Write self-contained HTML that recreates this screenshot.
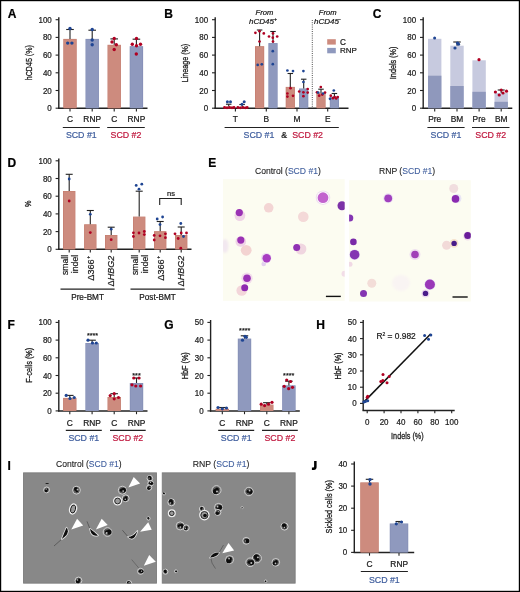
<!DOCTYPE html>
<html><head><meta charset="utf-8"><style>
html,body{margin:0;padding:0;background:#fff;}
body{width:520px;height:592px;overflow:hidden;position:relative;}
svg{position:absolute;left:0;top:0;will-change:transform;}
text{font-family:"Liberation Sans", sans-serif;}
</style></head><body>
<svg width="520" height="592" viewBox="0 0 520 592">
<rect x="0" y="0" width="520" height="592" fill="#fff"/>
<text x="7.80" y="18.10" font-size="12" text-anchor="start" fill="#000" stroke="#000" stroke-width="0.22" font-weight="bold" font-style="normal" >A</text>
<line x1="58.80" y1="17.20" x2="58.80" y2="108.90" stroke="#222" stroke-width="1.4" />
<line x1="55.60" y1="108.20" x2="58.80" y2="108.20" stroke="#222" stroke-width="1.1" />
<text transform="translate(51.80,111.28) scale(0.93,1)" x="0" y="0" font-size="8.6" text-anchor="end" fill="#1a1a1a" stroke="#1a1a1a" stroke-width="0.22">0</text>
<line x1="55.60" y1="90.50" x2="58.80" y2="90.50" stroke="#222" stroke-width="1.1" />
<text transform="translate(51.80,93.58) scale(0.93,1)" x="0" y="0" font-size="8.6" text-anchor="end" fill="#1a1a1a" stroke="#1a1a1a" stroke-width="0.22">20</text>
<line x1="55.60" y1="72.80" x2="58.80" y2="72.80" stroke="#222" stroke-width="1.1" />
<text transform="translate(51.80,75.88) scale(0.93,1)" x="0" y="0" font-size="8.6" text-anchor="end" fill="#1a1a1a" stroke="#1a1a1a" stroke-width="0.22">40</text>
<line x1="55.60" y1="55.10" x2="58.80" y2="55.10" stroke="#222" stroke-width="1.1" />
<text transform="translate(51.80,58.18) scale(0.93,1)" x="0" y="0" font-size="8.6" text-anchor="end" fill="#1a1a1a" stroke="#1a1a1a" stroke-width="0.22">60</text>
<line x1="55.60" y1="37.40" x2="58.80" y2="37.40" stroke="#222" stroke-width="1.1" />
<text transform="translate(51.80,40.48) scale(0.93,1)" x="0" y="0" font-size="8.6" text-anchor="end" fill="#1a1a1a" stroke="#1a1a1a" stroke-width="0.22">80</text>
<line x1="55.60" y1="19.70" x2="58.80" y2="19.70" stroke="#222" stroke-width="1.1" />
<text transform="translate(51.80,22.78) scale(0.93,1)" x="0" y="0" font-size="8.6" text-anchor="end" fill="#1a1a1a" stroke="#1a1a1a" stroke-width="0.22">100</text>
<text transform="translate(31.90,62.70) rotate(-90) scale(0.722,1)" x="0" y="0" font-size="9.8" text-anchor="middle" fill="#1a1a1a" stroke="#1a1a1a" stroke-width="0.3">hCD45 (%)</text>
<line x1="58.10" y1="108.20" x2="147.50" y2="108.20" stroke="#222" stroke-width="1.5" />
<rect x="63.30" y="38.90" width="13.40" height="69.30" fill="#C47B6C"/>
<rect x="63.85" y="39.35" width="12.30" height="68.85" fill="#CD8B7E"/>
<line x1="70.00" y1="38.90" x2="70.00" y2="29.50" stroke="#222" stroke-width="1.1" />
<line x1="66.20" y1="29.50" x2="73.80" y2="29.50" stroke="#222" stroke-width="1.1" />
<line x1="70.00" y1="108.90" x2="70.00" y2="111.50" stroke="#222" stroke-width="1.1" />
<rect x="85.50" y="38.90" width="13.40" height="69.30" fill="#7F8AB3"/>
<rect x="86.05" y="39.35" width="12.30" height="68.85" fill="#8F99BE"/>
<line x1="92.20" y1="38.90" x2="92.20" y2="30.20" stroke="#222" stroke-width="1.1" />
<line x1="88.40" y1="30.20" x2="96.00" y2="30.20" stroke="#222" stroke-width="1.1" />
<line x1="92.20" y1="108.90" x2="92.20" y2="111.50" stroke="#222" stroke-width="1.1" />
<rect x="107.50" y="44.80" width="13.40" height="63.40" fill="#C47B6C"/>
<rect x="108.05" y="45.25" width="12.30" height="62.95" fill="#CD8B7E"/>
<line x1="114.20" y1="44.80" x2="114.20" y2="38.90" stroke="#222" stroke-width="1.1" />
<line x1="110.40" y1="38.90" x2="118.00" y2="38.90" stroke="#222" stroke-width="1.1" />
<line x1="114.20" y1="108.90" x2="114.20" y2="111.50" stroke="#222" stroke-width="1.1" />
<rect x="129.70" y="46.20" width="13.40" height="62.00" fill="#7F8AB3"/>
<rect x="130.25" y="46.65" width="12.30" height="61.55" fill="#8F99BE"/>
<line x1="136.40" y1="46.20" x2="136.40" y2="39.20" stroke="#222" stroke-width="1.1" />
<line x1="132.60" y1="39.20" x2="140.20" y2="39.20" stroke="#222" stroke-width="1.1" />
<line x1="136.40" y1="108.90" x2="136.40" y2="111.50" stroke="#222" stroke-width="1.1" />
<text x="70.00" y="122.00" font-size="8.4" text-anchor="middle" fill="#1a1a1a" stroke="#1a1a1a" stroke-width="0.22" font-weight="normal" font-style="normal" >C</text>
<text x="92.20" y="122.00" font-size="8.4" text-anchor="middle" fill="#1a1a1a" stroke="#1a1a1a" stroke-width="0.22" font-weight="normal" font-style="normal" >RNP</text>
<text x="114.20" y="122.00" font-size="8.4" text-anchor="middle" fill="#1a1a1a" stroke="#1a1a1a" stroke-width="0.22" font-weight="normal" font-style="normal" >C</text>
<text x="136.40" y="122.00" font-size="8.4" text-anchor="middle" fill="#1a1a1a" stroke="#1a1a1a" stroke-width="0.22" font-weight="normal" font-style="normal" >RNP</text>
<line x1="62.80" y1="127.50" x2="99.80" y2="127.50" stroke="#222" stroke-width="1.2" />
<text x="81.30" y="138.20" font-size="8.8" text-anchor="middle" fill="#42609F" stroke="#42609F" stroke-width="0.22" font-weight="normal" font-style="normal" >SCD #1</text>
<line x1="107.20" y1="127.50" x2="144.80" y2="127.50" stroke="#222" stroke-width="1.2" />
<text x="126.00" y="138.20" font-size="8.8" text-anchor="middle" fill="#C0193F" stroke="#C0193F" stroke-width="0.22" font-weight="normal" font-style="normal" >SCD #2</text>
<circle cx="70.00" cy="28.50" r="1.7" fill="#1F4593"/>
<circle cx="67.70" cy="43.10" r="1.7" fill="#1F4593"/>
<circle cx="71.90" cy="43.10" r="1.7" fill="#1F4593"/>
<circle cx="92.20" cy="29.50" r="1.7" fill="#1F4593"/>
<circle cx="92.20" cy="40.00" r="1.7" fill="#1F4593"/>
<circle cx="92.20" cy="44.80" r="1.7" fill="#1F4593"/>
<circle cx="114.20" cy="38.50" r="1.7" fill="#B00022"/>
<circle cx="112.00" cy="42.00" r="1.7" fill="#B00022"/>
<circle cx="116.30" cy="44.80" r="1.7" fill="#B00022"/>
<circle cx="114.20" cy="49.50" r="1.7" fill="#B00022"/>
<circle cx="136.50" cy="38.50" r="1.7" fill="#B00022"/>
<circle cx="132.30" cy="44.20" r="1.7" fill="#B00022"/>
<circle cx="136.50" cy="45.70" r="1.7" fill="#B00022"/>
<circle cx="140.50" cy="44.20" r="1.7" fill="#B00022"/>
<circle cx="136.30" cy="54.00" r="1.7" fill="#B00022"/>
<text x="164.30" y="18.30" font-size="12" text-anchor="start" fill="#000" stroke="#000" stroke-width="0.22" font-weight="bold" font-style="normal" >B</text>
<line x1="215.20" y1="17.20" x2="215.20" y2="108.90" stroke="#222" stroke-width="1.4" />
<line x1="212.00" y1="108.20" x2="215.20" y2="108.20" stroke="#222" stroke-width="1.1" />
<text transform="translate(208.20,111.28) scale(0.93,1)" x="0" y="0" font-size="8.6" text-anchor="end" fill="#1a1a1a" stroke="#1a1a1a" stroke-width="0.22">0</text>
<line x1="212.00" y1="90.50" x2="215.20" y2="90.50" stroke="#222" stroke-width="1.1" />
<text transform="translate(208.20,93.58) scale(0.93,1)" x="0" y="0" font-size="8.6" text-anchor="end" fill="#1a1a1a" stroke="#1a1a1a" stroke-width="0.22">20</text>
<line x1="212.00" y1="72.80" x2="215.20" y2="72.80" stroke="#222" stroke-width="1.1" />
<text transform="translate(208.20,75.88) scale(0.93,1)" x="0" y="0" font-size="8.6" text-anchor="end" fill="#1a1a1a" stroke="#1a1a1a" stroke-width="0.22">40</text>
<line x1="212.00" y1="55.10" x2="215.20" y2="55.10" stroke="#222" stroke-width="1.1" />
<text transform="translate(208.20,58.18) scale(0.93,1)" x="0" y="0" font-size="8.6" text-anchor="end" fill="#1a1a1a" stroke="#1a1a1a" stroke-width="0.22">60</text>
<line x1="212.00" y1="37.40" x2="215.20" y2="37.40" stroke="#222" stroke-width="1.1" />
<text transform="translate(208.20,40.48) scale(0.93,1)" x="0" y="0" font-size="8.6" text-anchor="end" fill="#1a1a1a" stroke="#1a1a1a" stroke-width="0.22">80</text>
<line x1="212.00" y1="19.70" x2="215.20" y2="19.70" stroke="#222" stroke-width="1.1" />
<text transform="translate(208.20,22.78) scale(0.93,1)" x="0" y="0" font-size="8.6" text-anchor="end" fill="#1a1a1a" stroke="#1a1a1a" stroke-width="0.22">100</text>
<text transform="translate(188.10,63.00) rotate(-90) scale(0.729,1)" x="0" y="0" font-size="9.8" text-anchor="middle" fill="#1a1a1a" stroke="#1a1a1a" stroke-width="0.3">Lineage (%)</text>
<line x1="214.50" y1="108.20" x2="348.50" y2="108.20" stroke="#222" stroke-width="1.5" />
<text x="264.40" y="14.50" font-size="7.6" text-anchor="middle" fill="#1a1a1a" stroke="#1a1a1a" stroke-width="0.22" font-weight="normal" font-style="italic" >From</text>
<text x="262.90" y="23.90" font-size="8" text-anchor="middle" fill="#1a1a1a" stroke="#1a1a1a" stroke-width="0.22" font-weight="normal" font-style="italic" >hCD45<tspan font-size="5" dy="-3">+</tspan></text>
<text x="327.70" y="14.50" font-size="7.6" text-anchor="middle" fill="#1a1a1a" stroke="#1a1a1a" stroke-width="0.22" font-weight="normal" font-style="italic" >From</text>
<text x="327.40" y="23.90" font-size="8" text-anchor="middle" fill="#1a1a1a" stroke="#1a1a1a" stroke-width="0.22" font-weight="normal" font-style="italic" >hCD45<tspan font-size="5" dy="-3">-</tspan></text>
<line x1="312.30" y1="20.00" x2="312.30" y2="108.00" stroke="#222" stroke-width="0.8" stroke-dasharray="1 1.2"/>
<rect x="327.20" y="39.20" width="8.60" height="5.40" fill="#CD8B7E"/>
<rect x="327.20" y="47.90" width="8.60" height="5.40" fill="#8F99BE"/>
<text x="340.00" y="44.60" font-size="8.2" text-anchor="start" fill="#1a1a1a" stroke="#1a1a1a" stroke-width="0.22" font-weight="normal" font-style="normal" >C</text>
<text x="340.00" y="53.40" font-size="8.0" text-anchor="start" fill="#1a1a1a" stroke="#1a1a1a" stroke-width="0.22" font-weight="normal" font-style="normal" >RNP</text>
<rect x="224.10" y="106.60" width="9.20" height="1.60" fill="#C47B6C"/>
<rect x="224.65" y="107.05" width="8.10" height="1.15" fill="#CD8B7E"/>
<line x1="228.70" y1="106.60" x2="228.70" y2="104.20" stroke="#222" stroke-width="1.1" />
<line x1="225.95" y1="104.20" x2="231.45" y2="104.20" stroke="#222" stroke-width="1.1" />
<rect x="237.50" y="106.80" width="9.20" height="1.40" fill="#7F8AB3"/>
<rect x="238.05" y="107.25" width="8.10" height="0.95" fill="#8F99BE"/>
<line x1="242.10" y1="106.80" x2="242.10" y2="104.50" stroke="#222" stroke-width="1.1" />
<line x1="239.35" y1="104.50" x2="244.85" y2="104.50" stroke="#222" stroke-width="1.1" />
<line x1="235.40" y1="108.90" x2="235.40" y2="111.50" stroke="#222" stroke-width="1.1" />
<rect x="255.00" y="46.20" width="9.20" height="62.00" fill="#C47B6C"/>
<rect x="255.55" y="46.65" width="8.10" height="61.55" fill="#CD8B7E"/>
<line x1="259.60" y1="46.20" x2="259.60" y2="30.00" stroke="#222" stroke-width="1.1" />
<line x1="256.85" y1="30.00" x2="262.35" y2="30.00" stroke="#222" stroke-width="1.1" />
<rect x="268.40" y="43.10" width="9.20" height="65.10" fill="#7F8AB3"/>
<rect x="268.95" y="43.55" width="8.10" height="64.65" fill="#8F99BE"/>
<line x1="273.00" y1="43.10" x2="273.00" y2="31.50" stroke="#222" stroke-width="1.1" />
<line x1="270.25" y1="31.50" x2="275.75" y2="31.50" stroke="#222" stroke-width="1.1" />
<line x1="266.30" y1="108.90" x2="266.30" y2="111.50" stroke="#222" stroke-width="1.1" />
<rect x="285.70" y="86.90" width="9.20" height="21.30" fill="#C47B6C"/>
<rect x="286.25" y="87.35" width="8.10" height="20.85" fill="#CD8B7E"/>
<line x1="290.30" y1="86.90" x2="290.30" y2="73.50" stroke="#222" stroke-width="1.1" />
<line x1="287.55" y1="73.50" x2="293.05" y2="73.50" stroke="#222" stroke-width="1.1" />
<rect x="299.10" y="88.50" width="9.20" height="19.70" fill="#7F8AB3"/>
<rect x="299.65" y="88.95" width="8.10" height="19.25" fill="#8F99BE"/>
<line x1="303.70" y1="88.50" x2="303.70" y2="79.20" stroke="#222" stroke-width="1.1" />
<line x1="300.95" y1="79.20" x2="306.45" y2="79.20" stroke="#222" stroke-width="1.1" />
<line x1="297.00" y1="108.90" x2="297.00" y2="111.50" stroke="#222" stroke-width="1.1" />
<rect x="316.40" y="93.10" width="9.20" height="15.10" fill="#C47B6C"/>
<rect x="316.95" y="93.55" width="8.10" height="14.65" fill="#CD8B7E"/>
<line x1="321.00" y1="93.10" x2="321.00" y2="89.20" stroke="#222" stroke-width="1.1" />
<line x1="318.25" y1="89.20" x2="323.75" y2="89.20" stroke="#222" stroke-width="1.1" />
<rect x="329.80" y="96.60" width="9.20" height="11.60" fill="#7F8AB3"/>
<rect x="330.35" y="97.05" width="8.10" height="11.15" fill="#8F99BE"/>
<line x1="334.40" y1="96.60" x2="334.40" y2="93.50" stroke="#222" stroke-width="1.1" />
<line x1="331.65" y1="93.50" x2="337.15" y2="93.50" stroke="#222" stroke-width="1.1" />
<line x1="327.70" y1="108.90" x2="327.70" y2="111.50" stroke="#222" stroke-width="1.1" />
<text x="235.40" y="122.00" font-size="8.4" text-anchor="middle" fill="#1a1a1a" stroke="#1a1a1a" stroke-width="0.22" font-weight="normal" font-style="normal" >T</text>
<text x="266.30" y="122.00" font-size="8.4" text-anchor="middle" fill="#1a1a1a" stroke="#1a1a1a" stroke-width="0.22" font-weight="normal" font-style="normal" >B</text>
<text x="297.00" y="122.00" font-size="8.4" text-anchor="middle" fill="#1a1a1a" stroke="#1a1a1a" stroke-width="0.22" font-weight="normal" font-style="normal" >M</text>
<text x="327.70" y="122.00" font-size="8.4" text-anchor="middle" fill="#1a1a1a" stroke="#1a1a1a" stroke-width="0.22" font-weight="normal" font-style="normal" >E</text>
<line x1="224.60" y1="127.50" x2="338.80" y2="127.50" stroke="#222" stroke-width="1.2" />
<text x="243.60" y="138.20" font-size="8.8" text-anchor="start" fill="#42609F" stroke="#42609F" stroke-width="0.22" font-weight="normal" font-style="normal" >SCD #1</text>
<text x="281.20" y="138.20" font-size="8.8" text-anchor="start" fill="#1a1a1a" stroke="#1a1a1a" stroke-width="0.22" font-weight="normal" font-style="normal" >&amp;</text>
<text x="292.20" y="138.20" font-size="8.8" text-anchor="start" fill="#C0193F" stroke="#C0193F" stroke-width="0.22" font-weight="normal" font-style="normal" >SCD #2</text>
<circle cx="224.50" cy="107.50" r="1.4" fill="#B00022"/>
<circle cx="227.00" cy="107.80" r="1.4" fill="#B00022"/>
<circle cx="229.50" cy="107.50" r="1.4" fill="#B00022"/>
<circle cx="232.00" cy="107.80" r="1.4" fill="#B00022"/>
<circle cx="234.00" cy="107.50" r="1.4" fill="#B00022"/>
<circle cx="227.40" cy="101.80" r="1.5" fill="#1F4593"/>
<circle cx="230.50" cy="101.80" r="1.5" fill="#1F4593"/>
<circle cx="237.80" cy="107.50" r="1.4" fill="#B00022"/>
<circle cx="240.30" cy="107.80" r="1.4" fill="#B00022"/>
<circle cx="242.80" cy="107.50" r="1.4" fill="#B00022"/>
<circle cx="245.30" cy="107.80" r="1.4" fill="#B00022"/>
<circle cx="247.20" cy="107.50" r="1.4" fill="#B00022"/>
<circle cx="244.20" cy="101.80" r="1.5" fill="#1F4593"/>
<circle cx="242.00" cy="104.20" r="1.5" fill="#1F4593"/>
<circle cx="255.40" cy="32.80" r="1.35" fill="#B00022"/>
<circle cx="259.50" cy="31.20" r="1.35" fill="#B00022"/>
<circle cx="263.80" cy="33.40" r="1.35" fill="#B00022"/>
<circle cx="259.50" cy="41.50" r="1.35" fill="#B00022"/>
<circle cx="257.70" cy="64.90" r="1.35" fill="#1F4593"/>
<circle cx="261.80" cy="64.30" r="1.35" fill="#1F4593"/>
<circle cx="269.00" cy="36.50" r="1.35" fill="#B00022"/>
<circle cx="273.00" cy="33.40" r="1.35" fill="#B00022"/>
<circle cx="272.80" cy="37.70" r="1.35" fill="#B00022"/>
<circle cx="277.20" cy="36.50" r="1.35" fill="#B00022"/>
<circle cx="273.00" cy="41.50" r="1.35" fill="#B00022"/>
<circle cx="272.80" cy="51.20" r="1.35" fill="#1F4593"/>
<circle cx="272.80" cy="64.20" r="1.35" fill="#1F4593"/>
<circle cx="287.40" cy="70.50" r="1.35" fill="#1F4593"/>
<circle cx="293.00" cy="71.10" r="1.35" fill="#1F4593"/>
<circle cx="290.50" cy="88.20" r="1.35" fill="#B00022"/>
<circle cx="287.40" cy="93.50" r="1.35" fill="#B00022"/>
<circle cx="287.40" cy="96.60" r="1.35" fill="#B00022"/>
<circle cx="293.00" cy="95.80" r="1.35" fill="#B00022"/>
<circle cx="303.40" cy="71.10" r="1.35" fill="#1F4593"/>
<circle cx="303.40" cy="82.00" r="1.35" fill="#1F4593"/>
<circle cx="299.20" cy="91.50" r="1.35" fill="#B00022"/>
<circle cx="303.40" cy="92.30" r="1.35" fill="#B00022"/>
<circle cx="307.70" cy="89.00" r="1.35" fill="#B00022"/>
<circle cx="307.70" cy="92.60" r="1.35" fill="#B00022"/>
<circle cx="303.40" cy="96.20" r="1.35" fill="#B00022"/>
<circle cx="320.80" cy="87.00" r="1.35" fill="#B00022"/>
<circle cx="317.00" cy="92.30" r="1.35" fill="#B00022"/>
<circle cx="319.20" cy="95.70" r="1.35" fill="#B00022"/>
<circle cx="325.00" cy="92.60" r="1.35" fill="#B00022"/>
<circle cx="322.30" cy="94.60" r="1.35" fill="#B00022"/>
<circle cx="318.20" cy="92.60" r="1.35" fill="#1F4593"/>
<circle cx="323.00" cy="93.50" r="1.35" fill="#1F4593"/>
<circle cx="333.80" cy="90.50" r="1.35" fill="#1F4593"/>
<circle cx="330.00" cy="98.80" r="1.35" fill="#1F4593"/>
<circle cx="330.80" cy="95.70" r="1.35" fill="#B00022"/>
<circle cx="334.60" cy="97.00" r="1.35" fill="#B00022"/>
<circle cx="337.70" cy="97.00" r="1.35" fill="#B00022"/>
<circle cx="336.20" cy="98.50" r="1.35" fill="#B00022"/>
<circle cx="333.00" cy="98.20" r="1.35" fill="#B00022"/>
<text x="372.70" y="18.30" font-size="12" text-anchor="start" fill="#000" stroke="#000" stroke-width="0.22" font-weight="bold" font-style="normal" >C</text>
<line x1="423.20" y1="17.20" x2="423.20" y2="108.90" stroke="#222" stroke-width="1.4" />
<line x1="420.00" y1="108.20" x2="423.20" y2="108.20" stroke="#222" stroke-width="1.1" />
<text transform="translate(416.20,111.28) scale(0.93,1)" x="0" y="0" font-size="8.6" text-anchor="end" fill="#1a1a1a" stroke="#1a1a1a" stroke-width="0.22">0</text>
<line x1="420.00" y1="90.50" x2="423.20" y2="90.50" stroke="#222" stroke-width="1.1" />
<text transform="translate(416.20,93.58) scale(0.93,1)" x="0" y="0" font-size="8.6" text-anchor="end" fill="#1a1a1a" stroke="#1a1a1a" stroke-width="0.22">20</text>
<line x1="420.00" y1="72.80" x2="423.20" y2="72.80" stroke="#222" stroke-width="1.1" />
<text transform="translate(416.20,75.88) scale(0.93,1)" x="0" y="0" font-size="8.6" text-anchor="end" fill="#1a1a1a" stroke="#1a1a1a" stroke-width="0.22">40</text>
<line x1="420.00" y1="55.10" x2="423.20" y2="55.10" stroke="#222" stroke-width="1.1" />
<text transform="translate(416.20,58.18) scale(0.93,1)" x="0" y="0" font-size="8.6" text-anchor="end" fill="#1a1a1a" stroke="#1a1a1a" stroke-width="0.22">60</text>
<line x1="420.00" y1="37.40" x2="423.20" y2="37.40" stroke="#222" stroke-width="1.1" />
<text transform="translate(416.20,40.48) scale(0.93,1)" x="0" y="0" font-size="8.6" text-anchor="end" fill="#1a1a1a" stroke="#1a1a1a" stroke-width="0.22">80</text>
<line x1="420.00" y1="19.70" x2="423.20" y2="19.70" stroke="#222" stroke-width="1.1" />
<text transform="translate(416.20,22.78) scale(0.93,1)" x="0" y="0" font-size="8.6" text-anchor="end" fill="#1a1a1a" stroke="#1a1a1a" stroke-width="0.22">100</text>
<text transform="translate(396.20,62.90) rotate(-90) scale(0.737,1)" x="0" y="0" font-size="9.8" text-anchor="middle" fill="#1a1a1a" stroke="#1a1a1a" stroke-width="0.3">Indels (%)</text>
<line x1="422.50" y1="108.20" x2="512.30" y2="108.20" stroke="#222" stroke-width="1.5" />
<rect x="428.00" y="38.80" width="13.40" height="69.40" fill="#C7CADF"/>
<rect x="428.00" y="75.70" width="13.40" height="32.50" fill="#8F98BC"/>
<line x1="434.70" y1="108.90" x2="434.70" y2="111.50" stroke="#222" stroke-width="1.1" />
<rect x="450.30" y="45.70" width="13.40" height="62.50" fill="#C7CADF"/>
<rect x="450.30" y="86.00" width="13.40" height="22.20" fill="#8F98BC"/>
<line x1="457.00" y1="108.90" x2="457.00" y2="111.50" stroke="#222" stroke-width="1.1" />
<rect x="472.40" y="60.30" width="13.40" height="47.90" fill="#C7CADF"/>
<rect x="472.40" y="91.80" width="13.40" height="16.40" fill="#8F98BC"/>
<line x1="479.10" y1="108.90" x2="479.10" y2="111.50" stroke="#222" stroke-width="1.1" />
<rect x="494.50" y="93.00" width="13.40" height="15.20" fill="#C7CADF"/>
<rect x="494.50" y="101.80" width="13.40" height="6.40" fill="#8F98BC"/>
<line x1="501.20" y1="108.90" x2="501.20" y2="111.50" stroke="#222" stroke-width="1.1" />
<text x="434.70" y="122.00" font-size="8.4" text-anchor="middle" fill="#1a1a1a" stroke="#1a1a1a" stroke-width="0.22" font-weight="normal" font-style="normal" >Pre</text>
<text x="457.00" y="122.00" font-size="8.4" text-anchor="middle" fill="#1a1a1a" stroke="#1a1a1a" stroke-width="0.22" font-weight="normal" font-style="normal" >BM</text>
<text x="479.10" y="122.00" font-size="8.4" text-anchor="middle" fill="#1a1a1a" stroke="#1a1a1a" stroke-width="0.22" font-weight="normal" font-style="normal" >Pre</text>
<text x="501.20" y="122.00" font-size="8.4" text-anchor="middle" fill="#1a1a1a" stroke="#1a1a1a" stroke-width="0.22" font-weight="normal" font-style="normal" >BM</text>
<line x1="427.40" y1="127.50" x2="464.60" y2="127.50" stroke="#222" stroke-width="1.2" />
<text x="446.00" y="138.20" font-size="8.8" text-anchor="middle" fill="#42609F" stroke="#42609F" stroke-width="0.22" font-weight="normal" font-style="normal" >SCD #1</text>
<line x1="472.00" y1="127.50" x2="509.50" y2="127.50" stroke="#222" stroke-width="1.2" />
<text x="490.75" y="138.20" font-size="8.8" text-anchor="middle" fill="#C0193F" stroke="#C0193F" stroke-width="0.22" font-weight="normal" font-style="normal" >SCD #2</text>
<line x1="457.00" y1="45.70" x2="457.00" y2="42.00" stroke="#222" stroke-width="1.1" />
<line x1="453.25" y1="42.00" x2="460.75" y2="42.00" stroke="#222" stroke-width="1.1" />
<line x1="501.20" y1="93.00" x2="501.20" y2="90.00" stroke="#222" stroke-width="1.1" />
<line x1="497.70" y1="90.00" x2="504.70" y2="90.00" stroke="#222" stroke-width="1.1" />
<circle cx="434.60" cy="38.00" r="1.5" fill="#1F4593"/>
<circle cx="455.00" cy="48.00" r="1.6" fill="#1F4593"/>
<circle cx="458.50" cy="44.20" r="1.6" fill="#1F4593"/>
<circle cx="457.50" cy="43.00" r="1.6" fill="#1F4593"/>
<circle cx="479.00" cy="59.70" r="1.6" fill="#B00022"/>
<circle cx="495.40" cy="92.00" r="1.6" fill="#B00022"/>
<circle cx="499.20" cy="95.00" r="1.6" fill="#B00022"/>
<circle cx="501.20" cy="90.00" r="1.6" fill="#B00022"/>
<circle cx="503.00" cy="93.00" r="1.6" fill="#B00022"/>
<circle cx="506.50" cy="91.20" r="1.6" fill="#B00022"/>
<text x="7.60" y="167.30" font-size="12" text-anchor="start" fill="#000" stroke="#000" stroke-width="0.22" font-weight="bold" font-style="normal" >D</text>
<line x1="58.80" y1="158.50" x2="58.80" y2="250.00" stroke="#222" stroke-width="1.4" />
<line x1="55.60" y1="249.30" x2="58.80" y2="249.30" stroke="#222" stroke-width="1.1" />
<text transform="translate(51.80,252.38) scale(0.93,1)" x="0" y="0" font-size="8.6" text-anchor="end" fill="#1a1a1a" stroke="#1a1a1a" stroke-width="0.22">0</text>
<line x1="55.60" y1="231.60" x2="58.80" y2="231.60" stroke="#222" stroke-width="1.1" />
<text transform="translate(51.80,234.68) scale(0.93,1)" x="0" y="0" font-size="8.6" text-anchor="end" fill="#1a1a1a" stroke="#1a1a1a" stroke-width="0.22">20</text>
<line x1="55.60" y1="213.90" x2="58.80" y2="213.90" stroke="#222" stroke-width="1.1" />
<text transform="translate(51.80,216.98) scale(0.93,1)" x="0" y="0" font-size="8.6" text-anchor="end" fill="#1a1a1a" stroke="#1a1a1a" stroke-width="0.22">40</text>
<line x1="55.60" y1="196.20" x2="58.80" y2="196.20" stroke="#222" stroke-width="1.1" />
<text transform="translate(51.80,199.28) scale(0.93,1)" x="0" y="0" font-size="8.6" text-anchor="end" fill="#1a1a1a" stroke="#1a1a1a" stroke-width="0.22">60</text>
<line x1="55.60" y1="178.50" x2="58.80" y2="178.50" stroke="#222" stroke-width="1.1" />
<text transform="translate(51.80,181.58) scale(0.93,1)" x="0" y="0" font-size="8.6" text-anchor="end" fill="#1a1a1a" stroke="#1a1a1a" stroke-width="0.22">80</text>
<line x1="55.60" y1="160.80" x2="58.80" y2="160.80" stroke="#222" stroke-width="1.1" />
<text transform="translate(51.80,163.88) scale(0.93,1)" x="0" y="0" font-size="8.6" text-anchor="end" fill="#1a1a1a" stroke="#1a1a1a" stroke-width="0.22">100</text>
<text transform="translate(31.40,203.90) rotate(-90) scale(0.735,1)" x="0" y="0" font-size="9.8" text-anchor="middle" fill="#1a1a1a" stroke="#1a1a1a" stroke-width="0.3">%</text>
<line x1="58.10" y1="249.30" x2="191.50" y2="249.30" stroke="#222" stroke-width="1.5" />
<rect x="63.00" y="191.00" width="12.40" height="58.30" fill="#C47B6C"/>
<rect x="63.55" y="191.45" width="11.30" height="57.85" fill="#CD8B7E"/>
<line x1="69.20" y1="191.00" x2="69.20" y2="174.30" stroke="#222" stroke-width="1.1" />
<line x1="65.70" y1="174.30" x2="72.70" y2="174.30" stroke="#222" stroke-width="1.1" />
<line x1="69.20" y1="250.00" x2="69.20" y2="252.60" stroke="#222" stroke-width="1.1" />
<rect x="84.10" y="224.30" width="12.40" height="25.00" fill="#C47B6C"/>
<rect x="84.65" y="224.75" width="11.30" height="24.55" fill="#CD8B7E"/>
<line x1="90.30" y1="224.30" x2="90.30" y2="210.50" stroke="#222" stroke-width="1.1" />
<line x1="86.80" y1="210.50" x2="93.80" y2="210.50" stroke="#222" stroke-width="1.1" />
<line x1="90.30" y1="250.00" x2="90.30" y2="252.60" stroke="#222" stroke-width="1.1" />
<rect x="105.00" y="235.00" width="12.40" height="14.30" fill="#C47B6C"/>
<rect x="105.55" y="235.45" width="11.30" height="13.85" fill="#CD8B7E"/>
<line x1="111.20" y1="235.00" x2="111.20" y2="227.20" stroke="#222" stroke-width="1.1" />
<line x1="107.70" y1="227.20" x2="114.70" y2="227.20" stroke="#222" stroke-width="1.1" />
<line x1="111.20" y1="250.00" x2="111.20" y2="252.60" stroke="#222" stroke-width="1.1" />
<rect x="133.00" y="216.60" width="12.40" height="32.70" fill="#C47B6C"/>
<rect x="133.55" y="217.05" width="11.30" height="32.25" fill="#CD8B7E"/>
<line x1="139.20" y1="216.60" x2="139.20" y2="191.20" stroke="#222" stroke-width="1.1" />
<line x1="135.70" y1="191.20" x2="142.70" y2="191.20" stroke="#222" stroke-width="1.1" />
<line x1="139.20" y1="250.00" x2="139.20" y2="252.60" stroke="#222" stroke-width="1.1" />
<rect x="154.00" y="231.20" width="12.40" height="18.10" fill="#C47B6C"/>
<rect x="154.55" y="231.65" width="11.30" height="17.65" fill="#CD8B7E"/>
<line x1="160.20" y1="231.20" x2="160.20" y2="221.50" stroke="#222" stroke-width="1.1" />
<line x1="156.70" y1="221.50" x2="163.70" y2="221.50" stroke="#222" stroke-width="1.1" />
<line x1="160.20" y1="250.00" x2="160.20" y2="252.60" stroke="#222" stroke-width="1.1" />
<rect x="175.00" y="235.00" width="12.40" height="14.30" fill="#C47B6C"/>
<rect x="175.55" y="235.45" width="11.30" height="13.85" fill="#CD8B7E"/>
<line x1="181.20" y1="235.00" x2="181.20" y2="227.00" stroke="#222" stroke-width="1.1" />
<line x1="177.70" y1="227.00" x2="184.70" y2="227.00" stroke="#222" stroke-width="1.1" />
<line x1="181.20" y1="250.00" x2="181.20" y2="252.60" stroke="#222" stroke-width="1.1" />
<text transform="translate(67.60,254.80) rotate(-90)" x="0" y="0" font-size="8.7" text-anchor="end" fill="#1a1a1a" stroke="#1a1a1a" stroke-width="0.2">small</text>
<text transform="translate(77.90,254.80) rotate(-90)" x="0" y="0" font-size="8.7" text-anchor="end" fill="#1a1a1a" stroke="#1a1a1a" stroke-width="0.2">indel</text>
<text transform="translate(93.60,255.80) rotate(-90)" x="0" y="0" font-size="9" text-anchor="end" fill="#1a1a1a" stroke="#1a1a1a" stroke-width="0.2"><tspan font-size="9.4">&#916;</tspan>366<tspan font-size="5" dy="-3.6" dx="0.8">+</tspan></text>
<text transform="translate(114.40,255.80) rotate(-90)" x="0" y="0" font-size="9" text-anchor="end" fill="#1a1a1a" stroke="#1a1a1a" stroke-width="0.2"><tspan font-size="9.4">&#916;</tspan><tspan font-style="italic">HBG2</tspan></text>
<text transform="translate(137.60,254.80) rotate(-90)" x="0" y="0" font-size="8.7" text-anchor="end" fill="#1a1a1a" stroke="#1a1a1a" stroke-width="0.2">small</text>
<text transform="translate(147.90,254.80) rotate(-90)" x="0" y="0" font-size="8.7" text-anchor="end" fill="#1a1a1a" stroke="#1a1a1a" stroke-width="0.2">indel</text>
<text transform="translate(163.60,255.80) rotate(-90)" x="0" y="0" font-size="9" text-anchor="end" fill="#1a1a1a" stroke="#1a1a1a" stroke-width="0.2"><tspan font-size="9.4">&#916;</tspan>366<tspan font-size="5" dy="-3.6" dx="0.8">+</tspan></text>
<text transform="translate(184.40,255.80) rotate(-90)" x="0" y="0" font-size="9" text-anchor="end" fill="#1a1a1a" stroke="#1a1a1a" stroke-width="0.2"><tspan font-size="9.4">&#916;</tspan><tspan font-style="italic">HBG2</tspan></text>
<line x1="60.50" y1="289.20" x2="114.60" y2="289.20" stroke="#222" stroke-width="1.2" />
<text x="87.55" y="299.90" font-size="8.2" text-anchor="middle" fill="#1a1a1a" stroke="#1a1a1a" stroke-width="0.22" font-weight="normal" font-style="normal" >Pre-BMT</text>
<line x1="130.50" y1="289.20" x2="184.60" y2="289.20" stroke="#222" stroke-width="1.2" />
<text x="157.55" y="299.90" font-size="8.2" text-anchor="middle" fill="#1a1a1a" stroke="#1a1a1a" stroke-width="0.22" font-weight="normal" font-style="normal" >Post-BMT</text>
<path d="M159.7,205 V198.5 H181.2 V205" fill="none" stroke="#222" stroke-width="1.1"/>
<text x="171.00" y="196.30" font-size="7.5" text-anchor="middle" fill="#1a1a1a" stroke="#1a1a1a" stroke-width="0.22" font-weight="normal" font-style="normal" >ns</text>
<circle cx="69.20" cy="179.00" r="1.4" fill="#1F4593"/>
<circle cx="69.20" cy="201.00" r="1.4" fill="#B00022"/>
<circle cx="90.30" cy="214.30" r="1.4" fill="#1F4593"/>
<circle cx="90.30" cy="232.60" r="1.4" fill="#B00022"/>
<circle cx="111.20" cy="229.20" r="1.4" fill="#1F4593"/>
<circle cx="111.20" cy="239.70" r="1.4" fill="#B00022"/>
<circle cx="136.20" cy="185.40" r="1.4" fill="#1F4593"/>
<circle cx="141.80" cy="184.20" r="1.4" fill="#1F4593"/>
<circle cx="139.00" cy="189.20" r="1.4" fill="#1F4593"/>
<circle cx="133.40" cy="232.80" r="1.4" fill="#B00022"/>
<circle cx="133.40" cy="236.50" r="1.4" fill="#B00022"/>
<circle cx="139.00" cy="233.00" r="1.4" fill="#B00022"/>
<circle cx="144.30" cy="231.50" r="1.4" fill="#B00022"/>
<circle cx="144.30" cy="234.60" r="1.4" fill="#B00022"/>
<circle cx="157.20" cy="219.00" r="1.4" fill="#1F4593"/>
<circle cx="162.60" cy="217.00" r="1.4" fill="#1F4593"/>
<circle cx="160.00" cy="224.60" r="1.4" fill="#1F4593"/>
<circle cx="154.20" cy="235.40" r="1.4" fill="#B00022"/>
<circle cx="154.20" cy="240.00" r="1.4" fill="#B00022"/>
<circle cx="160.00" cy="235.80" r="1.4" fill="#B00022"/>
<circle cx="165.40" cy="233.80" r="1.4" fill="#B00022"/>
<circle cx="165.40" cy="237.70" r="1.4" fill="#B00022"/>
<circle cx="180.80" cy="223.50" r="1.4" fill="#1F4593"/>
<circle cx="183.50" cy="236.50" r="1.4" fill="#1F4593"/>
<circle cx="175.00" cy="233.80" r="1.4" fill="#B00022"/>
<circle cx="178.20" cy="238.50" r="1.4" fill="#B00022"/>
<circle cx="181.20" cy="233.00" r="1.4" fill="#B00022"/>
<circle cx="186.50" cy="233.00" r="1.4" fill="#B00022"/>
<circle cx="180.80" cy="248.20" r="1.4" fill="#B00022"/>
<text x="208.20" y="167.30" font-size="12" text-anchor="start" fill="#000" stroke="#000" stroke-width="0.22" font-weight="bold" font-style="normal" >E</text>
<text x="287.90" y="174.30" font-size="8.6" text-anchor="middle" fill="#1a1a1a" stroke="#1a1a1a" stroke-width="0.1" font-weight="normal" font-style="normal" >Control (<tspan fill="#42609F" stroke="#42609F">SCD #1</tspan>)</text>
<text x="407.10" y="174.30" font-size="8.6" text-anchor="middle" fill="#1a1a1a" stroke="#1a1a1a" stroke-width="0.1" font-weight="normal" font-style="normal" >RNP (<tspan fill="#42609F" stroke="#42609F">SCD #1</tspan>)</text>
<defs><filter id="bl" x="-50%" y="-50%" width="200%" height="200%"><feGaussianBlur stdDeviation="0.35"/></filter><filter id="bl2" x="-50%" y="-50%" width="200%" height="200%"><feGaussianBlur stdDeviation="0.8"/></filter><clipPath id="e1"><rect x="223.0" y="179.2" width="121.7" height="121.6"/></clipPath><clipPath id="e2"><rect x="349.1" y="180.2" width="121.7" height="121.3"/></clipPath></defs>
<rect x="223.00" y="179.20" width="121.70" height="121.60" fill="#FCFCF1"/>
<rect x="349.10" y="180.20" width="121.70" height="121.30" fill="#FCFCF1"/>
<g clip-path="url(#e1)">
<ellipse cx="225" cy="246" rx="3.5" ry="7" fill="#F2E8F0" filter="url(#bl2)"/>
<circle cx="268.7" cy="207.8" r="4.8" fill="#F3D5D4" filter="url(#bl)"/>
<circle cx="303.3" cy="216.8" r="5.3" fill="#F4D9D8" filter="url(#bl)"/>
<circle cx="246.2" cy="250.3" r="5.4" fill="#F3D3D1" filter="url(#bl)"/>
<circle cx="239.9" cy="215.6" r="5.4" fill="#EFD3E6" opacity="1.0" filter="url(#bl)"/>
<circle cx="239.3" cy="212.6" r="3.6" fill="#9A30B4" filter="url(#bl)"/>
<circle cx="240.8" cy="241.5" r="5.3" fill="#EFD3E6" opacity="1.0" filter="url(#bl)"/>
<circle cx="240.8" cy="240.1" r="3.6" fill="#9A30B4" filter="url(#bl)"/>
<circle cx="323" cy="197.7" r="7.3" fill="#EEE0F0" opacity="1.0" filter="url(#bl)"/>
<circle cx="323" cy="197.7" r="6.2" fill="#FFFFFF" filter="url(#bl)"/>
<circle cx="323" cy="197.7" r="5.4" fill="#C262CE" filter="url(#bl)"/>
<circle cx="342.0" cy="205.7" r="4.5" fill="#7C30A8" filter="url(#bl)"/>
<circle cx="300.9" cy="249" r="5.5" fill="#F0D6E0" opacity="1.0" filter="url(#bl)"/>
<circle cx="296.7" cy="247.5" r="3.5" fill="#9030B4" filter="url(#bl)"/>
<circle cx="263.7" cy="264" r="2.3" fill="#E2D0EE" opacity="1.0" filter="url(#bl)"/>
<circle cx="266.2" cy="258.0" r="5.2" fill="#EEE0F2" opacity="1.0" filter="url(#bl)"/>
<circle cx="266.7" cy="258.3" r="4.2" fill="#A83EC2" filter="url(#bl)"/>
<circle cx="247" cy="278.3" r="5.7" fill="#F2DDEB" opacity="1.0" filter="url(#bl)"/>
<circle cx="247" cy="278.3" r="3.8" fill="#9A32B6" filter="url(#bl)"/>
<circle cx="241.7" cy="290.5" r="5.3" fill="#F3D6DA" opacity="1.0" filter="url(#bl)"/>
<circle cx="244.7" cy="287.8" r="3.5" fill="#8E2CB0" filter="url(#bl)"/>
<circle cx="344.5" cy="273.8" r="3" fill="#F2DDE8" filter="url(#bl)"/>
</g>
<g clip-path="url(#e2)">
<ellipse cx="401" cy="283" rx="9" ry="8" fill="#F9F4F3" filter="url(#bl2)"/>
<circle cx="388.2" cy="198.3" r="5" fill="#ECE2F2" opacity="1.0" filter="url(#bl)"/>
<circle cx="388.2" cy="198.3" r="3.9" fill="#A040BE" filter="url(#bl)"/>
<circle cx="349.8" cy="218" r="3.5" fill="#8436B2" filter="url(#bl)"/>
<circle cx="353.4" cy="241.9" r="3.3" fill="#7A2AA8" filter="url(#bl)"/>
<circle cx="354.6" cy="254.7" r="5.4" fill="#E8E0F4" opacity="1.0" filter="url(#bl)"/>
<circle cx="354.6" cy="254.7" r="4.8" fill="#8436B2" filter="url(#bl)"/>
<circle cx="350" cy="264.2" r="2.5" fill="#F0D8E4" filter="url(#bl)"/>
<circle cx="371.8" cy="283.3" r="4.5" fill="#F3DDD8" filter="url(#bl)"/>
<circle cx="363.5" cy="293.4" r="3.5" fill="#8436B2" filter="url(#bl)"/>
<circle cx="453.7" cy="188.5" r="4.5" fill="#F1DEDF" filter="url(#bl)"/>
<circle cx="457" cy="198.5" r="4.5" fill="#E8E4F4" opacity="1.0" filter="url(#bl)"/>
<circle cx="455.5" cy="198.9" r="3.8" fill="#8A2AB0" filter="url(#bl)"/>
<circle cx="467.7" cy="236" r="4.5" fill="#F0DDEA" opacity="1.0" filter="url(#bl)"/>
<circle cx="467.7" cy="235.6" r="3.5" fill="#6A1E9A" filter="url(#bl)"/>
<circle cx="415" cy="254.5" r="5.5" fill="#EEE0F0" opacity="1.0" filter="url(#bl)"/>
<circle cx="415" cy="254.5" r="3.8" fill="#A040B8" filter="url(#bl)"/>
<circle cx="446.6" cy="245.2" r="4.5" fill="#F2DAD8" filter="url(#bl)"/>
<circle cx="454.1" cy="243.4" r="4.3" fill="#F6E2CC" opacity="1.0" filter="url(#bl)"/>
<circle cx="454.1" cy="243.4" r="2.7" fill="#4A1A8A" filter="url(#bl)"/>
<circle cx="429.9" cy="284.5" r="5.6" fill="#E6E2F4" opacity="1.0" filter="url(#bl)"/>
<circle cx="429.9" cy="284.5" r="5.0" fill="#9A38B8" filter="url(#bl)"/>
<circle cx="425.5" cy="293.4" r="4.0" fill="#EAD8EE" opacity="1.0" filter="url(#bl)"/>
<circle cx="425.5" cy="293.4" r="2.7" fill="#4A1A8A" filter="url(#bl)"/>
</g>
<line x1="325.90" y1="296.40" x2="340.80" y2="296.40" stroke="#111" stroke-width="1.4" />
<line x1="452.50" y1="297.00" x2="467.70" y2="297.00" stroke="#111" stroke-width="1.4" />
<text x="7.60" y="328.60" font-size="12" text-anchor="start" fill="#000" stroke="#000" stroke-width="0.22" font-weight="bold" font-style="normal" >F</text>
<line x1="58.80" y1="320.00" x2="58.80" y2="411.60" stroke="#222" stroke-width="1.4" />
<line x1="55.60" y1="410.90" x2="58.80" y2="410.90" stroke="#222" stroke-width="1.1" />
<text transform="translate(51.80,413.98) scale(0.93,1)" x="0" y="0" font-size="8.6" text-anchor="end" fill="#1a1a1a" stroke="#1a1a1a" stroke-width="0.22">0</text>
<line x1="55.60" y1="393.20" x2="58.80" y2="393.20" stroke="#222" stroke-width="1.1" />
<text transform="translate(51.80,396.28) scale(0.93,1)" x="0" y="0" font-size="8.6" text-anchor="end" fill="#1a1a1a" stroke="#1a1a1a" stroke-width="0.22">20</text>
<line x1="55.60" y1="375.50" x2="58.80" y2="375.50" stroke="#222" stroke-width="1.1" />
<text transform="translate(51.80,378.58) scale(0.93,1)" x="0" y="0" font-size="8.6" text-anchor="end" fill="#1a1a1a" stroke="#1a1a1a" stroke-width="0.22">40</text>
<line x1="55.60" y1="357.80" x2="58.80" y2="357.80" stroke="#222" stroke-width="1.1" />
<text transform="translate(51.80,360.88) scale(0.93,1)" x="0" y="0" font-size="8.6" text-anchor="end" fill="#1a1a1a" stroke="#1a1a1a" stroke-width="0.22">60</text>
<line x1="55.60" y1="340.10" x2="58.80" y2="340.10" stroke="#222" stroke-width="1.1" />
<text transform="translate(51.80,343.18) scale(0.93,1)" x="0" y="0" font-size="8.6" text-anchor="end" fill="#1a1a1a" stroke="#1a1a1a" stroke-width="0.22">80</text>
<line x1="55.60" y1="322.40" x2="58.80" y2="322.40" stroke="#222" stroke-width="1.1" />
<text transform="translate(51.80,325.48) scale(0.93,1)" x="0" y="0" font-size="8.6" text-anchor="end" fill="#1a1a1a" stroke="#1a1a1a" stroke-width="0.22">100</text>
<text transform="translate(31.50,365.20) rotate(-90) scale(0.748,1)" x="0" y="0" font-size="9.8" text-anchor="middle" fill="#1a1a1a" stroke="#1a1a1a" stroke-width="0.3">F-cells (%)</text>
<line x1="58.10" y1="410.90" x2="147.50" y2="410.90" stroke="#222" stroke-width="1.5" />
<rect x="63.10" y="397.90" width="13.40" height="13.00" fill="#C47B6C"/>
<rect x="63.65" y="398.35" width="12.30" height="12.55" fill="#CD8B7E"/>
<line x1="69.80" y1="397.90" x2="69.80" y2="395.40" stroke="#222" stroke-width="1.1" />
<line x1="66.05" y1="395.40" x2="73.55" y2="395.40" stroke="#222" stroke-width="1.1" />
<line x1="69.80" y1="411.60" x2="69.80" y2="414.20" stroke="#222" stroke-width="1.1" />
<rect x="85.40" y="343.00" width="13.40" height="67.90" fill="#7F8AB3"/>
<rect x="85.95" y="343.45" width="12.30" height="67.45" fill="#8F99BE"/>
<line x1="92.10" y1="343.00" x2="92.10" y2="340.20" stroke="#222" stroke-width="1.1" />
<line x1="88.35" y1="340.20" x2="95.85" y2="340.20" stroke="#222" stroke-width="1.1" />
<line x1="92.10" y1="411.60" x2="92.10" y2="414.20" stroke="#222" stroke-width="1.1" />
<rect x="107.50" y="397.00" width="13.40" height="13.90" fill="#C47B6C"/>
<rect x="108.05" y="397.45" width="12.30" height="13.45" fill="#CD8B7E"/>
<line x1="114.20" y1="397.00" x2="114.20" y2="393.70" stroke="#222" stroke-width="1.1" />
<line x1="110.45" y1="393.70" x2="117.95" y2="393.70" stroke="#222" stroke-width="1.1" />
<line x1="114.20" y1="411.60" x2="114.20" y2="414.20" stroke="#222" stroke-width="1.1" />
<rect x="129.80" y="383.00" width="13.40" height="27.90" fill="#7F8AB3"/>
<rect x="130.35" y="383.45" width="12.30" height="27.45" fill="#8F99BE"/>
<line x1="136.50" y1="383.00" x2="136.50" y2="378.00" stroke="#222" stroke-width="1.1" />
<line x1="132.75" y1="378.00" x2="140.25" y2="378.00" stroke="#222" stroke-width="1.1" />
<line x1="136.50" y1="411.60" x2="136.50" y2="414.20" stroke="#222" stroke-width="1.1" />
<text x="69.80" y="425.50" font-size="8.4" text-anchor="middle" fill="#1a1a1a" stroke="#1a1a1a" stroke-width="0.22" font-weight="normal" font-style="normal" >C</text>
<text x="92.10" y="425.50" font-size="8.4" text-anchor="middle" fill="#1a1a1a" stroke="#1a1a1a" stroke-width="0.22" font-weight="normal" font-style="normal" >RNP</text>
<text x="114.20" y="425.50" font-size="8.4" text-anchor="middle" fill="#1a1a1a" stroke="#1a1a1a" stroke-width="0.22" font-weight="normal" font-style="normal" >C</text>
<text x="136.50" y="425.50" font-size="8.4" text-anchor="middle" fill="#1a1a1a" stroke="#1a1a1a" stroke-width="0.22" font-weight="normal" font-style="normal" >RNP</text>
<line x1="65.80" y1="430.40" x2="101.80" y2="430.40" stroke="#222" stroke-width="1.2" />
<text x="83.80" y="441.10" font-size="8.8" text-anchor="middle" fill="#42609F" stroke="#42609F" stroke-width="0.22" font-weight="normal" font-style="normal" >SCD #1</text>
<line x1="110.00" y1="430.40" x2="145.70" y2="430.40" stroke="#222" stroke-width="1.2" />
<text x="127.85" y="441.10" font-size="8.8" text-anchor="middle" fill="#C0193F" stroke="#C0193F" stroke-width="0.22" font-weight="normal" font-style="normal" >SCD #2</text>
<text x="92.50" y="338.20" font-size="7.2" text-anchor="middle" fill="#1a1a1a" stroke="#1a1a1a" stroke-width="0.22" font-weight="normal" font-style="normal" >****</text>
<text x="136.50" y="377.70" font-size="7.2" text-anchor="middle" fill="#1a1a1a" stroke="#1a1a1a" stroke-width="0.22" font-weight="normal" font-style="normal" >***</text>
<circle cx="66.20" cy="395.40" r="1.6" fill="#1F4593"/>
<circle cx="70.00" cy="398.50" r="1.6" fill="#1F4593"/>
<circle cx="74.20" cy="397.50" r="1.6" fill="#1F4593"/>
<circle cx="88.00" cy="340.20" r="1.6" fill="#1F4593"/>
<circle cx="92.50" cy="343.00" r="1.6" fill="#1F4593"/>
<circle cx="96.30" cy="343.00" r="1.6" fill="#1F4593"/>
<circle cx="110.20" cy="395.60" r="1.6" fill="#B00022"/>
<circle cx="114.20" cy="393.70" r="1.6" fill="#B00022"/>
<circle cx="114.20" cy="398.80" r="1.6" fill="#B00022"/>
<circle cx="118.50" cy="397.50" r="1.6" fill="#B00022"/>
<circle cx="132.00" cy="384.80" r="1.6" fill="#B00022"/>
<circle cx="135.80" cy="386.00" r="1.6" fill="#B00022"/>
<circle cx="140.60" cy="386.00" r="1.6" fill="#B00022"/>
<circle cx="133.80" cy="378.00" r="1.6" fill="#B00022"/>
<circle cx="139.00" cy="378.00" r="1.6" fill="#B00022"/>
<text x="164.30" y="328.60" font-size="12" text-anchor="start" fill="#000" stroke="#000" stroke-width="0.22" font-weight="bold" font-style="normal" >G</text>
<line x1="210.60" y1="320.00" x2="210.60" y2="411.60" stroke="#222" stroke-width="1.4" />
<line x1="207.40" y1="410.90" x2="210.60" y2="410.90" stroke="#222" stroke-width="1.1" />
<text transform="translate(203.60,413.98) scale(0.93,1)" x="0" y="0" font-size="8.6" text-anchor="end" fill="#1a1a1a" stroke="#1a1a1a" stroke-width="0.22">0</text>
<line x1="207.40" y1="393.20" x2="210.60" y2="393.20" stroke="#222" stroke-width="1.1" />
<text transform="translate(203.60,396.28) scale(0.93,1)" x="0" y="0" font-size="8.6" text-anchor="end" fill="#1a1a1a" stroke="#1a1a1a" stroke-width="0.22">10</text>
<line x1="207.40" y1="375.50" x2="210.60" y2="375.50" stroke="#222" stroke-width="1.1" />
<text transform="translate(203.60,378.58) scale(0.93,1)" x="0" y="0" font-size="8.6" text-anchor="end" fill="#1a1a1a" stroke="#1a1a1a" stroke-width="0.22">20</text>
<line x1="207.40" y1="357.80" x2="210.60" y2="357.80" stroke="#222" stroke-width="1.1" />
<text transform="translate(203.60,360.88) scale(0.93,1)" x="0" y="0" font-size="8.6" text-anchor="end" fill="#1a1a1a" stroke="#1a1a1a" stroke-width="0.22">30</text>
<line x1="207.40" y1="340.10" x2="210.60" y2="340.10" stroke="#222" stroke-width="1.1" />
<text transform="translate(203.60,343.18) scale(0.93,1)" x="0" y="0" font-size="8.6" text-anchor="end" fill="#1a1a1a" stroke="#1a1a1a" stroke-width="0.22">40</text>
<line x1="207.40" y1="322.40" x2="210.60" y2="322.40" stroke="#222" stroke-width="1.1" />
<text transform="translate(203.60,325.48) scale(0.93,1)" x="0" y="0" font-size="8.6" text-anchor="end" fill="#1a1a1a" stroke="#1a1a1a" stroke-width="0.22">50</text>
<text transform="translate(188.40,365.70) rotate(-90) scale(0.74,1)" x="0" y="0" font-size="9.8" text-anchor="middle" fill="#1a1a1a" stroke="#1a1a1a" stroke-width="0.3">HbF (%)</text>
<line x1="209.90" y1="410.90" x2="299.80" y2="410.90" stroke="#222" stroke-width="1.5" />
<rect x="215.60" y="408.80" width="13.40" height="2.10" fill="#C47B6C"/>
<rect x="216.15" y="409.25" width="12.30" height="1.65" fill="#CD8B7E"/>
<line x1="222.30" y1="408.80" x2="222.30" y2="407.50" stroke="#222" stroke-width="1.1" />
<line x1="218.55" y1="407.50" x2="226.05" y2="407.50" stroke="#222" stroke-width="1.1" />
<line x1="222.30" y1="411.60" x2="222.30" y2="414.20" stroke="#222" stroke-width="1.1" />
<rect x="237.80" y="338.60" width="13.40" height="72.30" fill="#7F8AB3"/>
<rect x="238.35" y="339.05" width="12.30" height="71.85" fill="#8F99BE"/>
<line x1="244.50" y1="338.60" x2="244.50" y2="335.80" stroke="#222" stroke-width="1.1" />
<line x1="240.75" y1="335.80" x2="248.25" y2="335.80" stroke="#222" stroke-width="1.1" />
<line x1="244.50" y1="411.60" x2="244.50" y2="414.20" stroke="#222" stroke-width="1.1" />
<rect x="260.10" y="404.60" width="13.40" height="6.30" fill="#C47B6C"/>
<rect x="260.65" y="405.05" width="12.30" height="5.85" fill="#CD8B7E"/>
<line x1="266.80" y1="404.60" x2="266.80" y2="402.70" stroke="#222" stroke-width="1.1" />
<line x1="263.05" y1="402.70" x2="270.55" y2="402.70" stroke="#222" stroke-width="1.1" />
<line x1="266.80" y1="411.60" x2="266.80" y2="414.20" stroke="#222" stroke-width="1.1" />
<rect x="282.20" y="385.40" width="13.40" height="25.50" fill="#7F8AB3"/>
<rect x="282.75" y="385.85" width="12.30" height="25.05" fill="#8F99BE"/>
<line x1="288.90" y1="385.40" x2="288.90" y2="381.20" stroke="#222" stroke-width="1.1" />
<line x1="285.15" y1="381.20" x2="292.65" y2="381.20" stroke="#222" stroke-width="1.1" />
<line x1="288.90" y1="411.60" x2="288.90" y2="414.20" stroke="#222" stroke-width="1.1" />
<text x="222.30" y="425.50" font-size="8.4" text-anchor="middle" fill="#1a1a1a" stroke="#1a1a1a" stroke-width="0.22" font-weight="normal" font-style="normal" >C</text>
<text x="244.50" y="425.50" font-size="8.4" text-anchor="middle" fill="#1a1a1a" stroke="#1a1a1a" stroke-width="0.22" font-weight="normal" font-style="normal" >RNP</text>
<text x="266.80" y="425.50" font-size="8.4" text-anchor="middle" fill="#1a1a1a" stroke="#1a1a1a" stroke-width="0.22" font-weight="normal" font-style="normal" >C</text>
<text x="288.90" y="425.50" font-size="8.4" text-anchor="middle" fill="#1a1a1a" stroke="#1a1a1a" stroke-width="0.22" font-weight="normal" font-style="normal" >RNP</text>
<line x1="218.20" y1="430.40" x2="254.20" y2="430.40" stroke="#222" stroke-width="1.2" />
<text x="236.20" y="441.10" font-size="8.8" text-anchor="middle" fill="#42609F" stroke="#42609F" stroke-width="0.22" font-weight="normal" font-style="normal" >SCD #1</text>
<line x1="262.00" y1="430.40" x2="297.80" y2="430.40" stroke="#222" stroke-width="1.2" />
<text x="279.90" y="441.10" font-size="8.8" text-anchor="middle" fill="#C0193F" stroke="#C0193F" stroke-width="0.22" font-weight="normal" font-style="normal" >SCD #2</text>
<text x="244.70" y="333.10" font-size="7.2" text-anchor="middle" fill="#1a1a1a" stroke="#1a1a1a" stroke-width="0.22" font-weight="normal" font-style="normal" >****</text>
<text x="288.70" y="377.70" font-size="7.2" text-anchor="middle" fill="#1a1a1a" stroke="#1a1a1a" stroke-width="0.22" font-weight="normal" font-style="normal" >****</text>
<circle cx="218.00" cy="407.50" r="1.6" fill="#1F4593"/>
<circle cx="222.30" cy="408.80" r="1.6" fill="#1F4593"/>
<circle cx="226.50" cy="408.00" r="1.6" fill="#1F4593"/>
<circle cx="242.50" cy="340.20" r="1.6" fill="#1F4593"/>
<circle cx="245.00" cy="336.30" r="1.6" fill="#1F4593"/>
<circle cx="246.30" cy="337.30" r="1.6" fill="#1F4593"/>
<circle cx="261.20" cy="404.20" r="1.6" fill="#B00022"/>
<circle cx="264.60" cy="405.60" r="1.6" fill="#B00022"/>
<circle cx="268.50" cy="404.20" r="1.6" fill="#B00022"/>
<circle cx="272.00" cy="402.30" r="1.6" fill="#B00022"/>
<circle cx="284.20" cy="386.30" r="1.6" fill="#B00022"/>
<circle cx="288.70" cy="388.70" r="1.6" fill="#B00022"/>
<circle cx="292.50" cy="387.30" r="1.6" fill="#B00022"/>
<circle cx="286.70" cy="380.00" r="1.6" fill="#B00022"/>
<circle cx="290.60" cy="381.50" r="1.6" fill="#B00022"/>
<text x="316.30" y="328.60" font-size="12" text-anchor="start" fill="#000" stroke="#000" stroke-width="0.22" font-weight="bold" font-style="normal" >H</text>
<line x1="363.20" y1="320.00" x2="363.20" y2="410.50" stroke="#222" stroke-width="1.4" />
<line x1="360.00" y1="403.40" x2="363.20" y2="403.40" stroke="#222" stroke-width="1.1" />
<text transform="translate(356.60,406.48) scale(0.93,1)" x="0" y="0" font-size="8.6" text-anchor="end" fill="#1a1a1a" stroke="#1a1a1a" stroke-width="0.22">0</text>
<line x1="360.00" y1="387.20" x2="363.20" y2="387.20" stroke="#222" stroke-width="1.1" />
<text transform="translate(356.60,390.28) scale(0.93,1)" x="0" y="0" font-size="8.6" text-anchor="end" fill="#1a1a1a" stroke="#1a1a1a" stroke-width="0.22">10</text>
<line x1="360.00" y1="371.00" x2="363.20" y2="371.00" stroke="#222" stroke-width="1.1" />
<text transform="translate(356.60,374.08) scale(0.93,1)" x="0" y="0" font-size="8.6" text-anchor="end" fill="#1a1a1a" stroke="#1a1a1a" stroke-width="0.22">20</text>
<line x1="360.00" y1="354.80" x2="363.20" y2="354.80" stroke="#222" stroke-width="1.1" />
<text transform="translate(356.60,357.88) scale(0.93,1)" x="0" y="0" font-size="8.6" text-anchor="end" fill="#1a1a1a" stroke="#1a1a1a" stroke-width="0.22">30</text>
<line x1="360.00" y1="338.60" x2="363.20" y2="338.60" stroke="#222" stroke-width="1.1" />
<text transform="translate(356.60,341.68) scale(0.93,1)" x="0" y="0" font-size="8.6" text-anchor="end" fill="#1a1a1a" stroke="#1a1a1a" stroke-width="0.22">40</text>
<line x1="360.00" y1="322.40" x2="363.20" y2="322.40" stroke="#222" stroke-width="1.1" />
<text transform="translate(356.60,325.48) scale(0.93,1)" x="0" y="0" font-size="8.6" text-anchor="end" fill="#1a1a1a" stroke="#1a1a1a" stroke-width="0.22">50</text>
<line x1="362.50" y1="410.50" x2="454.70" y2="410.50" stroke="#222" stroke-width="1.4" />
<line x1="367.20" y1="410.50" x2="367.20" y2="413.30" stroke="#222" stroke-width="1.1" />
<text transform="translate(367.20,425.30) scale(0.93,1)" x="0" y="0" font-size="8.6" text-anchor="middle" fill="#1a1a1a" stroke="#1a1a1a" stroke-width="0.22">0</text>
<line x1="384.10" y1="410.50" x2="384.10" y2="413.30" stroke="#222" stroke-width="1.1" />
<text transform="translate(384.10,425.30) scale(0.93,1)" x="0" y="0" font-size="8.6" text-anchor="middle" fill="#1a1a1a" stroke="#1a1a1a" stroke-width="0.22">20</text>
<line x1="401.00" y1="410.50" x2="401.00" y2="413.30" stroke="#222" stroke-width="1.1" />
<text transform="translate(401.00,425.30) scale(0.93,1)" x="0" y="0" font-size="8.6" text-anchor="middle" fill="#1a1a1a" stroke="#1a1a1a" stroke-width="0.22">40</text>
<line x1="417.90" y1="410.50" x2="417.90" y2="413.30" stroke="#222" stroke-width="1.1" />
<text transform="translate(417.90,425.30) scale(0.93,1)" x="0" y="0" font-size="8.6" text-anchor="middle" fill="#1a1a1a" stroke="#1a1a1a" stroke-width="0.22">60</text>
<line x1="434.80" y1="410.50" x2="434.80" y2="413.30" stroke="#222" stroke-width="1.1" />
<text transform="translate(434.80,425.30) scale(0.93,1)" x="0" y="0" font-size="8.6" text-anchor="middle" fill="#1a1a1a" stroke="#1a1a1a" stroke-width="0.22">80</text>
<line x1="451.70" y1="410.50" x2="451.70" y2="413.30" stroke="#222" stroke-width="1.1" />
<text transform="translate(451.70,425.30) scale(0.93,1)" x="0" y="0" font-size="8.6" text-anchor="middle" fill="#1a1a1a" stroke="#1a1a1a" stroke-width="0.22">100</text>
<text transform="translate(340.70,366.00) rotate(-90) scale(0.74,1)" x="0" y="0" font-size="9.8" text-anchor="middle" fill="#1a1a1a" stroke="#1a1a1a" stroke-width="0.3">HbF (%)</text>
<text transform="translate(407.4,438.6) scale(0.74,1)" x="0" y="0" font-size="9.8" text-anchor="middle" fill="#1a1a1a" stroke="#1a1a1a" stroke-width="0.3">Indels (%)</text>
<text x="376.40" y="339.30" font-size="8.4" text-anchor="start" fill="#1a1a1a" stroke="#1a1a1a" stroke-width="0.22" font-weight="normal" font-style="normal" >R<tspan font-size="5" dy="-3">2</tspan><tspan dy="3"> = 0.982</tspan></text>
<line x1="364.00" y1="401.90" x2="430.60" y2="334.00" stroke="#111" stroke-width="1.5" />
<circle cx="424.60" cy="335.40" r="1.5" fill="#1F4593"/>
<circle cx="428.50" cy="339.20" r="1.5" fill="#1F4593"/>
<circle cx="430.80" cy="335.00" r="1.5" fill="#1F4593"/>
<circle cx="383.00" cy="374.60" r="1.5" fill="#B00022"/>
<circle cx="389.20" cy="376.60" r="1.5" fill="#B00022"/>
<circle cx="380.80" cy="381.50" r="1.5" fill="#B00022"/>
<circle cx="382.80" cy="380.50" r="1.5" fill="#B00022"/>
<circle cx="387.00" cy="382.80" r="1.5" fill="#B00022"/>
<circle cx="367.20" cy="397.30" r="1.5" fill="#B00022"/>
<circle cx="367.70" cy="396.20" r="1.5" fill="#B00022"/>
<circle cx="365.40" cy="401.50" r="1.5" fill="#1F4593"/>
<circle cx="367.70" cy="400.80" r="1.5" fill="#1F4593"/>
<circle cx="363.80" cy="402.00" r="1.5" fill="#1F4593"/>
<text x="7.60" y="470.20" font-size="12" text-anchor="start" fill="#000" stroke="#000" stroke-width="0.22" font-weight="bold" font-style="normal" >I</text>
<text x="88.80" y="467.30" font-size="8.55" text-anchor="middle" fill="#1a1a1a" stroke="#1a1a1a" stroke-width="0.1" font-weight="normal" font-style="normal" >Control (<tspan fill="#42609F" stroke="#42609F">SCD #1</tspan>)</text>
<text x="221.10" y="467.30" font-size="8.65" text-anchor="middle" fill="#1a1a1a" stroke="#1a1a1a" stroke-width="0.1" font-weight="normal" font-style="normal" >RNP (<tspan fill="#42609F" stroke="#42609F">SCD #1</tspan>)</text>
<defs><clipPath id="i1"><rect x="23.1" y="472.4" width="133.8" height="111.2"/></clipPath><clipPath id="i2"><rect x="161.8" y="472.4" width="133.8" height="111.2"/></clipPath><filter id="b3" x="-50%" y="-50%" width="200%" height="200%"><feGaussianBlur stdDeviation="0.3"/></filter></defs>
<rect x="23.55" y="472.85" width="132.90" height="110.30" fill="#888888" stroke="#7C7C7C" stroke-width="0.9"/>
<rect x="162.25" y="472.85" width="132.90" height="110.30" fill="#888888" stroke="#7C7C7C" stroke-width="0.9"/>
<g clip-path="url(#i1)">
<g filter="url(#b3)"><circle cx="46.6" cy="489.9" r="2.9" fill="#606060" stroke="#E2E2E2" stroke-width="0.85"/><circle cx="46.09" cy="490.78" r="1.59" fill="#111111"/><circle cx="46.91" cy="489.37" r="1.12" fill="#111111"/><circle cx="46.37" cy="489.06" r="0.64" fill="#bdbdbd"/></g>
<path d="M45.6,483.6 L48.6,483.4" stroke="#1a1a1a" stroke-width="1" filter="url(#b3)"/>
<g filter="url(#b3)"><circle cx="76.5" cy="490.2" r="3.9" fill="#606060" stroke="#E2E2E2" stroke-width="0.85"/><circle cx="75.83" cy="489.01" r="1.95" fill="#111111"/><circle cx="76.90" cy="490.91" r="1.36" fill="#111111"/><circle cx="77.50" cy="489.60" r="0.86" fill="#bdbdbd"/></g>
<g filter="url(#b3)"><ellipse cx="73.1" cy="509.0" rx="3.3" ry="5.0" transform="rotate(15 73.1 509.0)" fill="#9a9a9a" stroke="#EEEEEE" stroke-width="1.6"/><ellipse cx="73.1" cy="509.0" rx="2.4" ry="4.1" transform="rotate(15 73.1 509.0)" fill="none" stroke="#1a1a1a" stroke-width="0.9"/></g>
<g filter="url(#b3)"><circle cx="122.3" cy="490.2" r="4.0" fill="#606060" stroke="#E2E2E2" stroke-width="0.85"/><circle cx="123.70" cy="490.22" r="2.40" fill="#111111"/><circle cx="121.46" cy="490.19" r="1.68" fill="#111111"/><circle cx="123.17" cy="491.03" r="0.88" fill="#bdbdbd"/></g>
<g filter="url(#b3)"><ellipse cx="117.6" cy="501.0" rx="3.8" ry="3.8" transform="rotate(0 117.6 501.0)" fill="#9a9a9a" stroke="#EEEEEE" stroke-width="1.6"/><ellipse cx="117.6" cy="501.0" rx="2.9" ry="2.9" transform="rotate(0 117.6 501.0)" fill="none" stroke="#1a1a1a" stroke-width="0.9"/></g>
<g filter="url(#b3)"><circle cx="125.7" cy="498.3" r="3.4" fill="#606060" stroke="#E2E2E2" stroke-width="0.85"/><circle cx="125.08" cy="499.32" r="2.04" fill="#111111"/><circle cx="126.07" cy="497.69" r="1.43" fill="#111111"/><circle cx="125.22" cy="499.20" r="0.75" fill="#bdbdbd"/></g>
<g filter="url(#b3)"><circle cx="149.9" cy="478.3" r="2.8" fill="#606060" stroke="#E2E2E2" stroke-width="0.85"/><circle cx="149.43" cy="477.44" r="1.68" fill="#111111"/><circle cx="150.18" cy="478.82" r="1.18" fill="#111111"/><circle cx="149.08" cy="478.12" r="0.62" fill="#bdbdbd"/></g>
<g filter="url(#b3)"><circle cx="150.6" cy="483.3" r="2.8" fill="#606060" stroke="#E2E2E2" stroke-width="0.85"/><circle cx="151.58" cy="483.33" r="1.68" fill="#111111"/><circle cx="150.01" cy="483.28" r="1.18" fill="#111111"/><circle cx="150.55" cy="482.46" r="0.62" fill="#bdbdbd"/></g>
<g filter="url(#b3)"><circle cx="149.2" cy="487.6" r="2.6" fill="#606060" stroke="#E2E2E2" stroke-width="0.85"/><circle cx="148.71" cy="488.37" r="1.56" fill="#111111"/><circle cx="149.49" cy="487.14" r="1.09" fill="#111111"/><circle cx="149.94" cy="487.35" r="0.57" fill="#bdbdbd"/></g>
<g filter="url(#b3)"><circle cx="148.5" cy="518.5" r="1.6" fill="#606060" stroke="#E2E2E2" stroke-width="0.85"/><circle cx="148.24" cy="518.00" r="0.96" fill="#111111"/><circle cx="148.65" cy="518.80" r="0.67" fill="#111111"/></g>
<g filter="url(#b3)"><circle cx="107.5" cy="532.0" r="4.3" fill="#606060" stroke="#E2E2E2" stroke-width="0.85"/><circle cx="109.00" cy="532.08" r="2.58" fill="#111111"/><circle cx="106.60" cy="531.95" r="1.81" fill="#111111"/><circle cx="106.66" cy="532.98" r="0.95" fill="#bdbdbd"/></g>
<g filter="url(#b3)"><circle cx="78.5" cy="580.5" r="3.4" fill="#606060" stroke="#E2E2E2" stroke-width="0.85"/><circle cx="77.85" cy="581.50" r="2.04" fill="#111111"/><circle cx="78.89" cy="579.90" r="1.43" fill="#111111"/><circle cx="77.57" cy="580.07" r="0.75" fill="#bdbdbd"/></g>
<g filter="url(#b3)"><circle cx="129.0" cy="583.5" r="2.8" fill="#606060" stroke="#E2E2E2" stroke-width="0.85"/><circle cx="128.56" cy="582.62" r="1.68" fill="#111111"/><circle cx="129.26" cy="584.03" r="1.18" fill="#111111"/><circle cx="129.14" cy="582.67" r="0.62" fill="#bdbdbd"/></g>
<path d="M62.4,538.6 L54.0,546.0" fill="none" stroke="#3a3a3a" stroke-width="0.7" opacity="0.8"/>
<path d="M90.0,529 L87.0,521.4" fill="none" stroke="#3a3a3a" stroke-width="0.7" opacity="0.8"/>
<path d="M128.2,537 L122.4,530.2" fill="none" stroke="#3a3a3a" stroke-width="0.7" opacity="0.8"/>
<path d="M139.6,569 L131.7,559.6" fill="none" stroke="#3a3a3a" stroke-width="0.5" opacity="0.8"/>
<g filter="url(#b3)"><path d="M66.6,527.6 Q70.6,533.5 61.8,539.0 Q64.2,533 66.6,527.6 Z" fill="#0e0e0e" stroke="#EDEDED" stroke-width="1.5" stroke-linejoin="round"/><path d="M66.6,527.6 Q70.6,533.5 61.8,539.0 Q64.2,533 66.6,527.6 Z" fill="#0e0e0e"/></g>
<g filter="url(#b3)"><path d="M90.0,528.8 Q91,537 98.0,535.4 Q95,532.5 90.0,528.8 Z" fill="#0e0e0e" stroke="#EDEDED" stroke-width="1.5" stroke-linejoin="round"/><path d="M90.0,528.8 Q91,537 98.0,535.4 Q95,532.5 90.0,528.8 Z" fill="#0e0e0e"/></g>
<g filter="url(#b3)"><path d="M128.0,536.8 Q134,542.5 137.4,531.0 Q133,537 128.0,536.8 Z" fill="#0e0e0e" stroke="#EDEDED" stroke-width="1.5" stroke-linejoin="round"/><path d="M128.0,536.8 Q134,542.5 137.4,531.0 Q133,537 128.0,536.8 Z" fill="#0e0e0e"/></g>
<g filter="url(#b3)"><circle cx="140.6" cy="571.3" r="3.0" fill="#606060" stroke="#E2E2E2" stroke-width="0.85"/><circle cx="141.65" cy="571.37" r="1.95" fill="#111111"/><circle cx="139.97" cy="571.26" r="1.36" fill="#111111"/><circle cx="141.49" cy="571.20" r="0.66" fill="#bdbdbd"/></g>
<polygon points="77.1,518.7 83.2,525.6 71.3,529.4" fill="#FFFFFF"/>
<polygon points="101.7,518.7 107.7,525.0 95.9,529.4" fill="#FFFFFF"/>
<polygon points="148.2,522.3 151.7,529.8 140.1,531.8" fill="#FFFFFF"/>
<polygon points="133.7,476.9 140.1,483.4 128.4,487.6" fill="#FFFFFF"/>
<polygon points="149.2,555.0 155.8,561.8 143.8,565.7" fill="#FFFFFF"/>
</g>
<g clip-path="url(#i2)">
<g filter="url(#b3)"><circle cx="216.5" cy="490.2" r="4.5" fill="#606060" stroke="#E2E2E2" stroke-width="0.85"/><circle cx="215.62" cy="491.50" r="2.70" fill="#111111"/><circle cx="217.03" cy="489.42" r="1.89" fill="#111111"/><circle cx="217.00" cy="491.45" r="0.99" fill="#bdbdbd"/></g>
<g filter="url(#b3)"><circle cx="171.4" cy="502.3" r="3.5" fill="#606060" stroke="#E2E2E2" stroke-width="0.85"/><circle cx="170.87" cy="501.19" r="2.10" fill="#111111"/><circle cx="171.72" cy="502.96" r="1.47" fill="#111111"/><circle cx="170.56" cy="502.94" r="0.77" fill="#bdbdbd"/></g>
<g filter="url(#b3)"><ellipse cx="171.8" cy="513.3" rx="3.2" ry="3.2" transform="rotate(0 171.8 513.3)" fill="#9a9a9a" stroke="#EEEEEE" stroke-width="1.6"/><ellipse cx="171.8" cy="513.3" rx="2.3000000000000003" ry="2.3000000000000003" transform="rotate(0 171.8 513.3)" fill="none" stroke="#1a1a1a" stroke-width="0.9"/></g>
<g filter="url(#b3)"><circle cx="218.5" cy="507.4" r="4.0" fill="#606060" stroke="#E2E2E2" stroke-width="0.85"/><circle cx="219.90" cy="507.52" r="2.40" fill="#111111"/><circle cx="217.66" cy="507.33" r="1.68" fill="#111111"/><circle cx="217.55" cy="506.67" r="0.88" fill="#bdbdbd"/></g>
<g filter="url(#b3)"><circle cx="217.9" cy="512.4" r="3.0" fill="#606060" stroke="#E2E2E2" stroke-width="0.85"/><circle cx="217.30" cy="513.26" r="1.80" fill="#111111"/><circle cx="218.26" cy="511.88" r="1.26" fill="#111111"/><circle cx="218.23" cy="511.56" r="0.66" fill="#bdbdbd"/></g>
<g filter="url(#b3)"><circle cx="202.0" cy="509.0" r="2.6" fill="#606060" stroke="#E2E2E2" stroke-width="0.85"/><circle cx="201.62" cy="508.17" r="1.30" fill="#111111"/><circle cx="202.23" cy="509.50" r="0.91" fill="#111111"/><circle cx="202.78" cy="509.08" r="0.57" fill="#bdbdbd"/></g>
<g filter="url(#b3)"><ellipse cx="204.4" cy="515.1" rx="4.5" ry="4.5" transform="rotate(0 204.4 515.1)" fill="#9a9a9a" stroke="#EEEEEE" stroke-width="1.6"/><ellipse cx="204.4" cy="515.1" rx="3.6" ry="3.6" transform="rotate(0 204.4 515.1)" fill="none" stroke="#1a1a1a" stroke-width="0.9"/></g>
<circle cx="205" cy="515.5" r="1.8" fill="#111" filter="url(#b3)"/>
<g filter="url(#b3)"><circle cx="180.2" cy="525.9" r="4.0" fill="#606060" stroke="#E2E2E2" stroke-width="0.85"/><circle cx="181.59" cy="526.04" r="2.40" fill="#111111"/><circle cx="179.36" cy="525.82" r="1.68" fill="#111111"/><circle cx="180.39" cy="527.08" r="0.88" fill="#bdbdbd"/></g>
<g filter="url(#b3)"><circle cx="186.2" cy="527.9" r="3.0" fill="#606060" stroke="#E2E2E2" stroke-width="0.85"/><circle cx="185.58" cy="528.75" r="1.50" fill="#111111"/><circle cx="186.57" cy="527.39" r="1.05" fill="#111111"/><circle cx="185.38" cy="528.28" r="0.66" fill="#bdbdbd"/></g>
<g filter="url(#b3)"><circle cx="164.0" cy="493.6" r="1.3" fill="#606060" stroke="#E2E2E2" stroke-width="0.85"/><circle cx="163.82" cy="493.18" r="0.91" fill="#111111"/><circle cx="164.11" cy="493.85" r="0.64" fill="#111111"/></g>
<g filter="url(#b3)"><circle cx="248.9" cy="491.5" r="4.2" fill="#606060" stroke="#E2E2E2" stroke-width="0.85"/><circle cx="250.36" cy="491.67" r="2.31" fill="#111111"/><circle cx="248.02" cy="491.40" r="1.62" fill="#111111"/><circle cx="249.61" cy="490.46" r="0.92" fill="#bdbdbd"/></g>
<g filter="url(#b3)"><circle cx="242.1" cy="507.7" r="1.0" fill="#606060" stroke="#E2E2E2" stroke-width="0.85"/><circle cx="241.89" cy="507.98" r="0.60" fill="#111111"/><circle cx="242.23" cy="507.53" r="0.42" fill="#111111"/></g>
<g filter="url(#b3)"><circle cx="284.5" cy="526.5" r="3.6" fill="#606060" stroke="#E2E2E2" stroke-width="0.85"/><circle cx="284.02" cy="525.34" r="2.16" fill="#111111"/><circle cx="284.79" cy="527.20" r="1.51" fill="#111111"/><circle cx="284.44" cy="527.58" r="0.79" fill="#bdbdbd"/></g>
<g filter="url(#b3)"><circle cx="246.2" cy="540.8" r="3.4" fill="#606060" stroke="#E2E2E2" stroke-width="0.85"/><circle cx="247.38" cy="540.96" r="2.21" fill="#111111"/><circle cx="245.49" cy="540.70" r="1.55" fill="#111111"/><circle cx="245.20" cy="541.02" r="0.75" fill="#bdbdbd"/></g>
<g filter="url(#b3)"><circle cx="229.6" cy="559.6" r="4.0" fill="#606060" stroke="#E2E2E2" stroke-width="0.85"/><circle cx="228.74" cy="560.70" r="2.60" fill="#111111"/><circle cx="230.12" cy="558.94" r="1.82" fill="#111111"/><circle cx="229.04" cy="558.54" r="0.88" fill="#bdbdbd"/></g>
<g filter="url(#b3)"><circle cx="256.9" cy="558.3" r="4.5" fill="#606060" stroke="#E2E2E2" stroke-width="0.85"/><circle cx="256.32" cy="556.84" r="2.70" fill="#111111"/><circle cx="257.25" cy="559.18" r="1.89" fill="#111111"/><circle cx="257.88" cy="557.37" r="0.99" fill="#bdbdbd"/></g>
<g filter="url(#b3)"><circle cx="250.2" cy="562.3" r="4.3" fill="#606060" stroke="#E2E2E2" stroke-width="0.85"/><circle cx="251.69" cy="562.53" r="2.58" fill="#111111"/><circle cx="249.31" cy="562.16" r="1.81" fill="#111111"/><circle cx="251.30" cy="562.97" r="0.95" fill="#bdbdbd"/></g>
<g filter="url(#b3)"><circle cx="275.8" cy="562.3" r="3.8" fill="#606060" stroke="#E2E2E2" stroke-width="0.85"/><circle cx="274.96" cy="563.33" r="2.28" fill="#111111"/><circle cx="276.30" cy="561.68" r="1.60" fill="#111111"/><circle cx="275.49" cy="563.40" r="0.84" fill="#bdbdbd"/></g>
<g filter="url(#b3)"><circle cx="165.4" cy="571.7" r="2.5" fill="#606060" stroke="#E2E2E2" stroke-width="0.85"/><circle cx="165.09" cy="570.88" r="1.50" fill="#111111"/><circle cx="165.59" cy="572.19" r="1.05" fill="#111111"/></g>
<g filter="url(#b3)"><circle cx="175.9" cy="571.3" r="1.4" fill="#606060" stroke="#E2E2E2" stroke-width="0.85"/><circle cx="176.38" cy="571.38" r="0.84" fill="#111111"/><circle cx="175.61" cy="571.25" r="0.59" fill="#111111"/></g>
<g filter="url(#b3)"><circle cx="265.7" cy="581.2" r="1.2" fill="#606060" stroke="#E2E2E2" stroke-width="0.85"/><circle cx="265.43" cy="581.52" r="0.72" fill="#111111"/><circle cx="265.86" cy="581.01" r="0.50" fill="#111111"/></g>
<path d="M218.8,553.1 L223.5,545" fill="none" stroke="#3a3a3a" stroke-width="0.6" opacity="0.8"/>
<path d="M210.8,558 Q211,563 215.5,568.6" fill="none" stroke="#3a3a3a" stroke-width="0.6" opacity="0.8"/>
<g filter="url(#b3)"><path d="M210.0,557.8 Q212.5,552.2 219.2,552.6 Q217.5,556.8 210.0,557.8 Z" fill="#0e0e0e" stroke="#EDEDED" stroke-width="1.2" stroke-linejoin="round"/><path d="M210.0,557.8 Q212.5,552.2 219.2,552.6 Q217.5,556.8 210.0,557.8 Z" fill="#0e0e0e"/></g>
<polygon points="228.5,543.1 234.1,550.4 222.3,553.3" fill="#FFFFFF"/>
</g>
<path d="M314.1,460.9 H316.6 V466.9 Q316.6,469.9 313.7,469.9 H311.9 V467.5 H313.2 Q314.1,467.5 314.1,466.6 Z" fill="#000"/>
<line x1="354.30" y1="461.50" x2="354.30" y2="553.10" stroke="#222" stroke-width="1.4" />
<line x1="351.10" y1="552.40" x2="354.30" y2="552.40" stroke="#222" stroke-width="1.1" />
<text transform="translate(347.30,555.48) scale(0.93,1)" x="0" y="0" font-size="8.6" text-anchor="end" fill="#1a1a1a" stroke="#1a1a1a" stroke-width="0.22">0</text>
<line x1="351.10" y1="530.30" x2="354.30" y2="530.30" stroke="#222" stroke-width="1.1" />
<text transform="translate(347.30,533.38) scale(0.93,1)" x="0" y="0" font-size="8.6" text-anchor="end" fill="#1a1a1a" stroke="#1a1a1a" stroke-width="0.22">10</text>
<line x1="351.10" y1="508.20" x2="354.30" y2="508.20" stroke="#222" stroke-width="1.1" />
<text transform="translate(347.30,511.28) scale(0.93,1)" x="0" y="0" font-size="8.6" text-anchor="end" fill="#1a1a1a" stroke="#1a1a1a" stroke-width="0.22">20</text>
<line x1="351.10" y1="486.10" x2="354.30" y2="486.10" stroke="#222" stroke-width="1.1" />
<text transform="translate(347.30,489.18) scale(0.93,1)" x="0" y="0" font-size="8.6" text-anchor="end" fill="#1a1a1a" stroke="#1a1a1a" stroke-width="0.22">30</text>
<line x1="351.10" y1="464.00" x2="354.30" y2="464.00" stroke="#222" stroke-width="1.1" />
<text transform="translate(347.30,467.08) scale(0.93,1)" x="0" y="0" font-size="8.6" text-anchor="end" fill="#1a1a1a" stroke="#1a1a1a" stroke-width="0.22">40</text>
<text transform="translate(331.90,506.80) rotate(-90) scale(0.743,1)" x="0" y="0" font-size="9.8" text-anchor="middle" fill="#1a1a1a" stroke="#1a1a1a" stroke-width="0.3">Sickled cells (%)</text>
<line x1="353.60" y1="552.40" x2="414.20" y2="552.40" stroke="#222" stroke-width="1.5" />
<rect x="360.25" y="482.40" width="18.50" height="70.00" fill="#C47B6C"/>
<rect x="360.80" y="482.85" width="17.40" height="69.55" fill="#CD8B7E"/>
<rect x="389.75" y="523.50" width="18.50" height="28.90" fill="#7F8AB3"/>
<rect x="390.30" y="523.95" width="17.40" height="28.45" fill="#8F99BE"/>
<line x1="369.50" y1="482.40" x2="369.50" y2="479.30" stroke="#222" stroke-width="1.1" />
<line x1="365.75" y1="479.30" x2="373.25" y2="479.30" stroke="#222" stroke-width="1.1" />
<line x1="399.00" y1="523.50" x2="399.00" y2="521.50" stroke="#222" stroke-width="1.1" />
<line x1="395.50" y1="521.50" x2="402.50" y2="521.50" stroke="#222" stroke-width="1.1" />
<line x1="369.50" y1="553.10" x2="369.50" y2="555.70" stroke="#222" stroke-width="1.1" />
<line x1="399.00" y1="553.10" x2="399.00" y2="555.70" stroke="#222" stroke-width="1.1" />
<text x="369.50" y="566.60" font-size="8.4" text-anchor="middle" fill="#1a1a1a" stroke="#1a1a1a" stroke-width="0.22" font-weight="normal" font-style="normal" >C</text>
<text x="399.20" y="566.60" font-size="8.4" text-anchor="middle" fill="#1a1a1a" stroke="#1a1a1a" stroke-width="0.22" font-weight="normal" font-style="normal" >RNP</text>
<line x1="360.80" y1="571.50" x2="407.90" y2="571.50" stroke="#222" stroke-width="1.2" />
<text x="384.35" y="582.60" font-size="8.8" text-anchor="middle" fill="#42609F" stroke="#42609F" stroke-width="0.22" font-weight="normal" font-style="normal" >SCD #1</text>
<circle cx="370.00" cy="479.60" r="1.7" fill="#1F4593"/>
<circle cx="370.00" cy="484.00" r="1.7" fill="#1F4593"/>
<circle cx="396.30" cy="523.80" r="1.6" fill="#1F4593"/>
<circle cx="401.50" cy="522.00" r="1.6" fill="#1F4593"/>
<rect x="0" y="0" width="520" height="1.2" fill="#000"/><rect x="0" y="0" width="1.2" height="592" fill="#000"/><rect x="518.8" y="0" width="1.2" height="592" fill="#000"/><rect x="0" y="590.8" width="520" height="1.2" fill="#000"/>
</svg>
</body></html>
